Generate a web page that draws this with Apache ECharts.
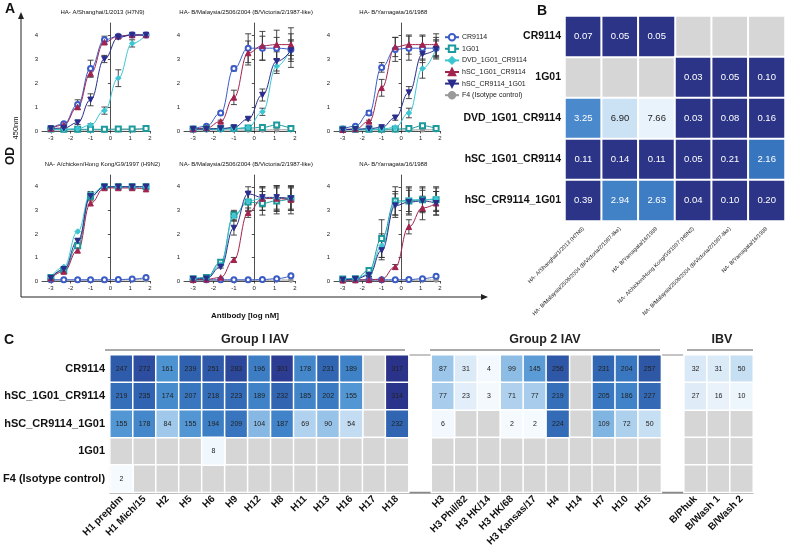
<!DOCTYPE html>
<html><head><meta charset="utf-8">
<script src="https://cdn.jsdelivr.net/npm/echarts@6/dist/echarts.min.js"></script>
<style>html,body{margin:0;padding:0;background:#fff}#c{width:786px;height:549px}</style>
</head><body><div id="c"></div><script>
// ---------- Panel A data ----------
const doseX = [-3.0, -2.35, -1.65, -1.0, -0.3, 0.4, 1.1, 1.8];
const seriesNames = ['CR9114', '1G01', 'DVD_1G01_CR9114', 'hSC_1G01_CR9114', 'hSC_CR9114_1G01', 'F4 (Isotype control)'];
const panelTitles = ['HA- A/Shanghai/1/2013 (H7N9)', 'HA- B/Malaysia/2506/2004 (B/Victoria/2/1987-like)', 'HA- B/Yamagata/16/1988',
  'NA- A/chicken/Hong Kong/G9/1997 (H9N2)', 'NA- B/Malaysia/2506/2004 (B/Victoria/2/1987-like)', 'NA- B/Yamagata/16/1988'];
// order in each panel: CR9114, 1G01, DVD, hSC_1G01_CR9114, hSC_CR9114_1G01, F4
const panel1 = [
  [0.1, 0.3, 1.1, 2.6, 3.8, 3.95, 4.0, 4.0],
  [0.08, 0.07, 0.07, 0.07, 0.07, 0.08, 0.08, 0.1],
  [0.05, 0.07, 0.1, 0.25, 0.85, 2.2, 3.65, 4.0],
  [0.1, 0.25, 1.0, 2.4, 3.7, 3.95, 4.0, 4.0],
  [0.1, 0.12, 0.35, 1.3, 3.0, 3.9, 4.0, 4.0],
  [0.04, 0.04, 0.04, 0.04, 0.04, 0.05, 0.06, 0.1]];
const panel2 = [
  [0.08, 0.2, 0.75, 2.6, 3.45, 3.45, 3.45, 3.4],
  [0.08, 0.1, 0.1, 0.1, 0.12, 0.15, 0.25, 0.1],
  [0.05, 0.06, 0.07, 0.1, 0.15, 0.8, 2.7, 3.45],
  [0.08, 0.12, 0.4, 1.4, 3.25, 3.55, 3.6, 3.6],
  [0.07, 0.08, 0.1, 0.15, 0.5, 1.5, 2.9, 3.35],
  [0.04, 0.04, 0.04, 0.04, 0.04, 0.04, 0.05, 0.05]];
const panel3 = [
  [0.08, 0.2, 0.75, 2.65, 3.4, 3.45, 3.45, 3.45],
  [0.07, 0.07, 0.07, 0.07, 0.08, 0.1, 0.22, 0.1],
  [0.05, 0.05, 0.06, 0.08, 0.15, 0.75, 2.6, 3.45],
  [0.05, 0.08, 0.4, 1.8, 3.5, 3.6, 3.6, 3.6],
  [0.05, 0.07, 0.1, 0.15, 0.55, 1.6, 3.2, 3.4],
  [0.04, 0.04, 0.04, 0.04, 0.04, 0.04, 0.05, 0.05]];
const panel4 = [
  [0.05, 0.05, 0.05, 0.05, 0.05, 0.06, 0.08, 0.15],
  [0.15, 0.45, 1.5, 3.6, 4.0, 4.0, 4.0, 4.0],
  [0.15, 0.6, 2.1, 3.7, 4.0, 4.0, 4.0, 4.0],
  [0.12, 0.4, 1.3, 3.3, 3.95, 3.95, 3.95, 3.9],
  [0.12, 0.5, 1.7, 3.6, 4.0, 4.0, 4.0, 4.0],
  [0.04, 0.04, 0.04, 0.04, 0.04, 0.04, 0.05, 0.05]];
const panel5 = [
  [0.05, 0.05, 0.05, 0.05, 0.05, 0.06, 0.1, 0.22],
  [0.1, 0.15, 0.8, 2.8, 3.35, 3.3, 3.4, 3.5],
  [0.1, 0.12, 0.7, 2.75, 3.4, 3.5, 3.5, 3.5],
  [0.05, 0.07, 0.15, 0.9, 2.9, 3.5, 3.5, 3.45],
  [0.08, 0.1, 0.6, 2.25, 3.7, 3.55, 3.55, 3.5],
  [0.03, 0.03, 0.03, 0.03, 0.03, 0.03, 0.04, 0.04]];
const panel6 = [
  [0.05, 0.05, 0.05, 0.05, 0.05, 0.06, 0.1, 0.2],
  [0.08, 0.1, 0.45, 1.8, 3.4, 3.4, 3.45, 3.45],
  [0.08, 0.1, 0.3, 1.5, 3.3, 3.45, 3.45, 3.5],
  [0.03, 0.04, 0.05, 0.08, 0.6, 2.3, 3.1, 3.3],
  [0.05, 0.08, 0.25, 1.3, 3.2, 3.35, 3.4, 3.3],
  [0.03, 0.03, 0.03, 0.03, 0.03, 0.03, 0.04, 0.04]];
const Z8 = [0, 0, 0, 0, 0, 0, 0, 0];
const err1 = [[0, 0.05, 0.2, 0.35, 0.15, 0, 0, 0], Z8, [0, 0, 0, 0.05, 0.15, 0.35, 0.15, 0], [0, 0, 0.1, 0.15, 0.1, 0.05, 0, 0], [0, 0, 0.08, 0.25, 0.15, 0.05, 0, 0], Z8];
const err2 = [[0, 0, 0, 0.1, 0.6, 0.5, 0.45, 0.4], Z8, [0, 0, 0, 0, 0, 0.15, 0.3, 0.3], [0, 0, 0.05, 0.3, 0.5, 0.6, 0.6, 0.7], [0, 0, 0, 0, 0.05, 0.25, 0.4, 0.7], Z8];
const err3 = [[0, 0, 0.1, 0.2, 0.5, 0.5, 0.5, 0.45], Z8, [0, 0, 0, 0, 0, 0.2, 0.4, 0.35], [0, 0, 0.05, 0.35, 0.4, 0.4, 0.4, 0.45], [0, 0, 0, 0, 0.1, 0.25, 0.35, 0.35], Z8];
const err4 = [Z8, [0, 0.05, 0.1, 0.15, 0, 0, 0, 0], Z8, Z8, [0, 0.05, 0.1, 0.2, 0, 0, 0, 0], Z8];
const err5 = [Z8, [0, 0, 0.05, 0.2, 0.4, 0.5, 0.55, 0.5], [0, 0, 0.05, 0.2, 0.4, 0.5, 0.55, 0.5], [0, 0, 0, 0.1, 0.2, 0.5, 0.5, 0.6], [0, 0, 0.05, 0.3, 0.3, 0.4, 0.5, 0.45], Z8];
const err6 = [Z8, [0, 0, 0.1, 0.8, 0.6, 0.6, 0.55, 0.5], [0, 0, 0.1, 0.5, 0.5, 0.5, 0.5, 0.5], [0, 0, 0, 0, 0.1, 0.3, 0.5, 0.5], [0, 0, 0.05, 0.4, 0.5, 0.5, 0.45, 0.5], Z8];
const xTicks = [-3, -2, -1, 0, 1, 2];
const yTicks = [0, 1, 2, 3, 4];

// ---------- Panel B data ----------
const bRows = ['CR9114', '1G01', 'DVD_1G01_CR9114', 'hSC_1G01_CR9114', 'hSC_CR9114_1G01'];
const bCols = ['HA- A/Shanghai/1/2013 (H7N9)', 'HA- B/Malaysia/2506/2004 (B/Victoria/2/1987-like)', 'HA- B/Yamagata/16/1988',
  'NA- A/chicken/Hong Kong/G9/1997 (H9N2)', 'NA- B/Malaysia/2506/2004 (B/Victoria/2/1987-like)', 'NA- B/Yamagata/16/1988'];
const bCR9114 = [0.07, 0.05, 0.05, null, null, null];
const b1G01 = [null, null, null, 0.03, 0.05, 0.10];
const bDVD = [3.25, 6.90, 7.66, 0.03, 0.08, 0.16];
const bHSC1 = [0.11, 0.14, 0.11, 0.05, 0.21, 2.16];
const bHSC2 = [0.39, 2.94, 2.63, 0.04, 0.10, 0.20];

// ---------- Panel C data ----------
const cRows = ['CR9114', 'hSC_1G01_CR9114', 'hSC_CR9114_1G01', '1G01', 'F4 (Isotype control)'];
const cGroup1 = ['H1 prepdm', 'H1 Mich/15', 'H2', 'H5', 'H6', 'H9', 'H12', 'H8', 'H11', 'H13', 'H16', 'H17', 'H18'];
const cGroup2 = ['H3', 'H3 Phil/82', 'H3 HK/14', 'H3 HK/68', 'H3 Kansas/17', 'H4', 'H14', 'H7', 'H10', 'H15'];
const cIBV = ['B/Phuk', 'B/Wash 1', 'B/Wash 2'];
const cCR9114 = [247, 272, 161, 239, 251, 283, 196, 301, 178, 231, 189, null, 317, 87, 31, 4, 99, 145, 256, null, 231, 204, 257, 32, 31, 50];
const cHSC1 = [219, 235, 174, 207, 218, 223, 189, 232, 185, 202, 155, null, 314, 77, 23, 3, 71, 77, 219, null, 205, 186, 227, 27, 16, 10];
const cHSC2 = [155, 178, 84, 155, 194, 209, 104, 187, 69, 90, 54, null, 232, 6, null, null, 2, 2, 224, null, 109, 72, 50, null, null, null];
const c1G01 = [null, null, null, null, 8, null, null, null, null, null, null, null, null, null, null, null, null, null, null, null, null, null, null, null, null, null];
const cF4 = [2, null, null, null, null, null, null, null, null, null, null, null, null, null, null, null, null, null, null, null, null, null, null, null, null, null];

// ---------- build ----------
const colors = ['#3b5cc6', '#1c9a9c', '#3cc6d2', '#a3234f', '#2b2d8c', '#9a9a9a'];
const symbols = ['emptyCircle', 'emptyRect', 'diamond', 'triangle', 'path://M0,0 L10,0 L5,9 Z', 'circle'];
const symSizes = [5, 5, 5.5, 5.5, 5.5, 4.5];
const panels = [panel1, panel2, panel3, panel4, panel5, panel6];
const errs = [err1, err2, err3, err4, err5, err6];
const gridsA = [
  { left: 42, top: 23, width: 108, height: 108 },
  { left: 184, top: 23, width: 111, height: 108 },
  { left: 334, top: 23, width: 106, height: 108 },
  { left: 42, top: 175, width: 108, height: 106 },
  { left: 184, top: 175, width: 111, height: 106 },
  { left: 334, top: 175, width: 106, height: 106 }];
const FONT = 'Liberation Sans, Arial, Helvetica, sans-serif';

const grid = [], xAxis = [], yAxis = [], series = [], graphic = [];
gridsA.forEach((g, i) => {
  grid.push(Object.assign({ containLabel: false }, g));
  xAxis.push({ gridIndex: i, type: 'value', min: -3.45, max: 2,
    axisLine: { onZero: false, lineStyle: { color: '#222', width: 0.8 } },
    axisTick: { customValues: xTicks, length: 2.5, lineStyle: { color: '#222', width: 0.8 } },
    axisLabel: { customValues: xTicks, fontSize: 6, color: '#222', margin: 4, fontFamily: FONT },
    splitLine: { show: false } });
  yAxis.push({ gridIndex: i, type: 'value', min: 0, max: 4.5,
    axisLine: { show: true, lineStyle: { color: '#222', width: 0.8 } },
    axisTick: { show: true, customValues: yTicks, length: 2.5, lineStyle: { color: '#222', width: 0.8 } },
    axisLabel: { customValues: yTicks, fontSize: 6, color: '#222', margin: 4, fontFamily: FONT },
    splitLine: { show: false } });
  graphic.push({ type: 'text', x: g.left + g.width * (0.45 + 2.6) / 5.45, y: g.top - 11,
    style: { text: panelTitles[i], fontSize: 6, fontFamily: FONT, fill: '#111', align: 'center', verticalAlign: 'middle' }, z: 10 });
});

panels.forEach((pd, pi) => {
  pd.forEach((vals, si) => {
    series.push({ type: 'line', name: seriesNames[si], xAxisIndex: pi, yAxisIndex: pi,
      data: vals.map((v, k) => [doseX[k], v]), smooth: 0.45, smoothMonotone: 'x',
      symbol: symbols[si], symbolSize: symSizes[si], showSymbol: true,
      lineStyle: { width: 1, color: colors[si] },
      itemStyle: { color: colors[si], borderColor: colors[si], borderWidth: 1 }, z: si === 5 ? 3 : 4 });
    const ed = [];
    errs[pi][si].forEach((e, k) => { if (e > 0) ed.push([doseX[k], vals[k] - e, vals[k] + e]); });
    if (ed.length) series.push({ type: 'custom', xAxisIndex: pi, yAxisIndex: pi, data: ed, silent: true, z: 3,
      encode: { x: 0, y: [1, 2] },
      renderItem: (params, api) => {
        const x = api.value(0);
        const lo = api.coord([x, api.value(1)]), hi = api.coord([x, api.value(2)]);
        const w = 3, st = { stroke: '#333', lineWidth: 0.9 };
        return { type: 'group', children: [
          { type: 'line', shape: { x1: lo[0], y1: lo[1], x2: hi[0], y2: hi[1] }, style: st },
          { type: 'line', shape: { x1: lo[0] - w, y1: lo[1], x2: lo[0] + w, y2: lo[1] }, style: st },
          { type: 'line', shape: { x1: hi[0] - w, y1: hi[1], x2: hi[0] + w, y2: hi[1] }, style: st }] };
      } });
  });
});

// ---------- Panel B ----------
const bGrid = grid.length;
grid.push({ left: 565, top: 16, width: 220, height: 205, show: false });
xAxis.push({ gridIndex: bGrid, type: 'category', data: bCols,
  axisLine: { show: true, lineStyle: { color: '#8a8a8a', width: 1.5 } }, axisTick: { show: false },
  axisLabel: { rotate: 45, fontSize: 5.5, color: '#222', margin: 7, interval: 0, fontFamily: FONT }, splitLine: { show: false } });
yAxis.push({ gridIndex: bGrid, type: 'category', data: bRows, inverse: true,
  axisLine: { show: true, lineStyle: { color: '#8a8a8a', width: 1.5 } }, axisTick: { show: false },
  axisLabel: { fontSize: 10.5, fontWeight: 'bold', color: '#111', margin: 4, fontFamily: FONT }, splitLine: { show: false } });
const bAll = [bCR9114, b1G01, bDVD, bHSC1, bHSC2];
const bGreyData = [], bValData = [];
bAll.forEach((row, r) => row.forEach((v, c) => {
  if (v === null) bGreyData.push([c, r, 0]);
  else bValData.push({ value: [c, r, v], label: { color: v > 5 ? '#222' : '#fff' } });
}));
series.push({ type: 'heatmap', xAxisIndex: bGrid, yAxisIndex: bGrid, data: bGreyData,
  itemStyle: { color: '#d6d6d6', borderColor: '#fff', borderWidth: 2 }, label: { show: false }, silent: true });
const bValIdx = series.length;
series.push({ type: 'heatmap', xAxisIndex: bGrid, yAxisIndex: bGrid, data: bValData,
  itemStyle: { borderColor: '#fff', borderWidth: 2 },
  label: { show: true, fontSize: 9.5, fontFamily: FONT, formatter: p => p.value[2].toFixed(2) }, silent: true });

// ---------- Panel C ----------
const cGrid = grid.length;
const cCols = [...cGroup1, ' ', ...cGroup2, '  ', ...cIBV];
const cColIndex = [];
cGroup1.forEach((_, i) => cColIndex.push(i));
cGroup2.forEach((_, i) => cColIndex.push(cGroup1.length + 1 + i));
cIBV.forEach((_, i) => cColIndex.push(cGroup1.length + cGroup2.length + 2 + i));
grid.push({ left: 105, top: 355, width: 648, height: 138, show: true, borderColor: '#8a8a8a', borderWidth: 1.2, backgroundColor: '#fff' });
xAxis.push({ gridIndex: cGrid, type: 'category', data: cCols,
  axisLine: { show: true, lineStyle: { color: '#8a8a8a', width: 1.5 } }, axisTick: { show: false },
  axisLabel: { rotate: 45, fontSize: 10, fontWeight: 'bold', color: '#111', margin: 5, interval: 0, fontFamily: FONT }, splitLine: { show: false } });
yAxis.push({ gridIndex: cGrid, type: 'category', data: cRows, inverse: true,
  axisLine: { show: true, lineStyle: { color: '#8a8a8a', width: 1.5 } }, axisTick: { show: false },
  axisLabel: { fontSize: 11, fontWeight: 'bold', color: '#111', margin: 5, fontFamily: FONT }, splitLine: { show: false } });
const cAll = [cCR9114, cHSC1, cHSC2, c1G01, cF4];
const cGreyData = [], cValData = [];
cAll.forEach((row, r) => row.forEach((v, k) => {
  if (v === null) cGreyData.push([cColIndex[k], r, 0]);
  else cValData.push([cColIndex[k], r, v]);
}));
series.push({ type: 'heatmap', xAxisIndex: cGrid, yAxisIndex: cGrid, data: cGreyData,
  itemStyle: { color: '#d6d6d6', borderColor: '#fff', borderWidth: 1.5 }, label: { show: false }, silent: true });
const cValIdx = series.length;
series.push({ type: 'heatmap', xAxisIndex: cGrid, yAxisIndex: cGrid, data: cValData,
  itemStyle: { borderColor: '#fff', borderWidth: 1.5 },
  label: { show: true, fontSize: 7, color: '#222', fontFamily: FONT, formatter: p => p.value[2] }, silent: true });

// ---------- decorations ----------
graphic.push(
  { type: 'text', x: 5, y: 2, style: { text: 'A', fontSize: 14, fontWeight: 'bold', fontFamily: FONT, fill: '#111' } },
  { type: 'text', x: 537, y: 4, style: { text: 'B', fontSize: 14, fontWeight: 'bold', fontFamily: FONT, fill: '#111' } },
  { type: 'text', x: 4, y: 333, style: { text: 'C', fontSize: 14, fontWeight: 'bold', fontFamily: FONT, fill: '#111' } },
  { type: 'line', shape: { x1: 21, y1: 297, x2: 21, y2: 18 }, style: { stroke: '#222', lineWidth: 1 } },
  { type: 'polygon', shape: { points: [[21, 12], [18, 19], [24, 19]] }, style: { fill: '#222' } },
  { type: 'line', shape: { x1: 21, y1: 297, x2: 482, y2: 297 }, style: { stroke: '#222', lineWidth: 1 } },
  { type: 'polygon', shape: { points: [[488, 297], [481, 294], [481, 300]] }, style: { fill: '#222' } },
  { type: 'text', x: 11, y: 156, rotation: Math.PI / 2, style: { text: 'OD', fontSize: 12, fontWeight: 'bold', fontFamily: FONT, fill: '#111', align: 'center', verticalAlign: 'middle' } },
  { type: 'text', x: 16, y: 128, rotation: Math.PI / 2, style: { text: '450nm', fontSize: 7.5, fontFamily: FONT, fill: '#111', align: 'center', verticalAlign: 'middle' } },
  { type: 'text', x: 245, y: 316, style: { text: 'Antibody [log nM]', fontSize: 8, fontWeight: 'bold', fontFamily: FONT, fill: '#111', align: 'center', verticalAlign: 'middle' } },
  { type: 'text', x: 255, y: 340, style: { text: 'Group I IAV', fontSize: 12.5, fontWeight: 'bold', fontFamily: FONT, fill: '#222', align: 'center', verticalAlign: 'middle' } },
  { type: 'line', shape: { x1: 105, y1: 350, x2: 405, y2: 350 }, style: { stroke: '#555', lineWidth: 1 } },
  { type: 'text', x: 545, y: 340, style: { text: 'Group 2 IAV', fontSize: 12.5, fontWeight: 'bold', fontFamily: FONT, fill: '#222', align: 'center', verticalAlign: 'middle' } },
  { type: 'line', shape: { x1: 430, y1: 350, x2: 660, y2: 350 }, style: { stroke: '#555', lineWidth: 1 } },
  { type: 'text', x: 722, y: 340, style: { text: 'IBV', fontSize: 12.5, fontWeight: 'bold', fontFamily: FONT, fill: '#222', align: 'center', verticalAlign: 'middle' } },
  { type: 'line', shape: { x1: 687, y1: 350, x2: 753, y2: 350 }, style: { stroke: '#555', lineWidth: 1 } }
);

const option = {
  animation: false,
  backgroundColor: '#fff',
  textStyle: { fontFamily: FONT },
  grid, xAxis, yAxis, series, graphic,
  legend: { data: seriesNames, orient: 'vertical', left: 439, top: 28, itemWidth: 14, itemHeight: 8, itemGap: 3.2,
    textStyle: { fontSize: 7, color: '#222', fontFamily: FONT, padding: [0, 0, 0, -2] }, selectedMode: false },
  visualMap: [
    { type: 'continuous', show: false, seriesIndex: bValIdx, dimension: 2, min: 0, max: 8,
      inRange: { color: ['#2b3486', '#2b3486', '#3672bd', '#4283c8', '#62a0d8', '#86b8e3', '#abd0ee', '#cfe3f5', '#f7fbff'] } },
    { type: 'continuous', show: false, seriesIndex: cValIdx, dimension: 2, min: 0, max: 320,
      inRange: { color: ['#f7fbff', '#d3e5f5', '#a4cbeb', '#74acdd', '#4d93d1', '#3a7bc3', '#2f60ae', '#2c4a9c', '#2b3088'] } }
  ]
};
const chart = echarts.init(document.getElementById('c'));
chart.setOption(option);
</script></body></html>
